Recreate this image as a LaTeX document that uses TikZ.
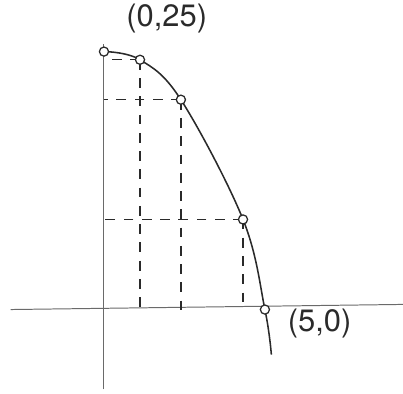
\documentclass[tikz,border=0pt]{standalone}
\usepackage{fontspec}
\setsansfont{TeX Gyre Heros}
\usetikzlibrary{positioning,calc}
\definecolor{pencil}{HTML}{2A2A2A}
\definecolor{lead}{HTML}{6A6A6A}
\begin{document}
\begin{tikzpicture}[x=0.805cm,y=0.256cm,
    axis/.style={draw=lead,line width=0.7pt},
    arc/.style={draw=pencil,line width=1.1pt},
    guide/.style={draw=pencil,line width=0.9pt,dash pattern=on 7pt off 6pt},
    pt/.style={circle,draw=pencil,line width=0.9pt,fill=white,
               inner sep=0pt,minimum size=6.5pt},
    tag/.style={font=\sffamily\fontsize{22}{24}\selectfont,text=pencil}]
  \useasboundingbox (-3.23,-8.2) rectangle (9.29,30.24);
  \coordinate (O) at (0,0);
  % axes
  \coordinate (xl) at (-2.9,0);
  \coordinate (xr) at (9.29,0.5);
  \coordinate (yb) at (0,-7.8);
  \coordinate (yt) at (0,25.9);
  \draw[axis] (xl) -- (xr);
  \draw[axis] (yb) -- (yt);
  % points on the curve
  \coordinate (p0) at (0,25.2);
  \coordinate (p1) at (1.12,24.4);
  \coordinate (p2) at (2.39,20.5);
  \coordinate (p3) at (4.32,8.8);
  \coordinate (p4) at (5,0);
  \coordinate (tail) at (5.2,-4.4);
  \draw[arc] plot[smooth,tension=0.6] coordinates {(p0) (p1) (p2) (p3) (p4) (tail)};
  \foreach \p in {p1,p2,p3}{
    \draw[guide] (\p) -- (\p |- O);
    \draw[guide] (\p) -- (\p -| O);
  }
  \foreach \p in {p0,p1,p2,p3,p4}
    \node[pt] at (\p) {};
  \node[tag] (top) at (1.95,28.4) {(0,25)};
  \node[tag] (end) at (6.7,-1.4) {(5,0)};
\end{tikzpicture}
\end{document}
